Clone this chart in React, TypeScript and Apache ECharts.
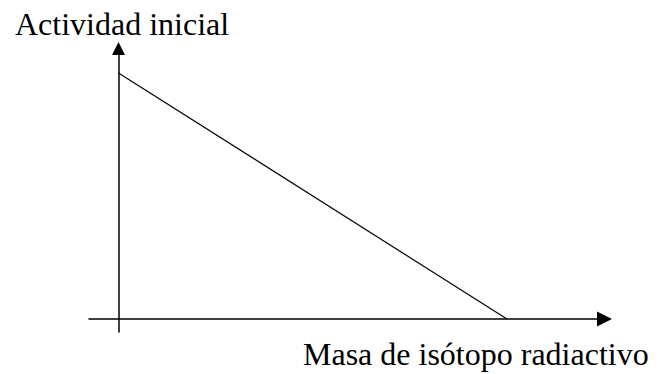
import React, { useEffect, useRef } from "react";
import * as echarts from "echarts";

// Conceptual relation: initial activity falls linearly with the mass of radioactive isotope
const masa: number[] = [0, 1];
const actividad: number[] = [1, 0];
const yLabel = "Actividad inicial";
const xLabel = "Masa de isótopo radiactivo";

export default function App() {
  const ref = useRef<HTMLDivElement>(null);
  useEffect(() => {
    if (!ref.current) return;
    const chart = echarts.init(ref.current, undefined, { renderer: "svg" });
    const family = "Liberation Serif";
    chart.setOption({
      animation: false,
      backgroundColor: "#ffffff",
      grid: { left: 89, right: 60.5, top: 48.5, bottom: 42, containLabel: false },
      xAxis: {
        type: "value",
        min: -0.0759,
        max: 1.251,
        axisLine: {
          onZero: true,
          lineStyle: { color: "#000", width: 1.5 },
          symbol: ["none", "triangle"],
          symbolSize: [15, 15],
        },
        axisTick: { show: false },
        axisLabel: { show: false },
        splitLine: { show: false },
      },
      yAxis: {
        type: "value",
        min: -0.0528,
        max: 1.0996,
        axisLine: {
          onZero: true,
          lineStyle: { color: "#000", width: 1.5 },
          symbol: ["none", "triangle"],
          symbolSize: [13, 13],
        },
        axisTick: { show: false },
        axisLabel: { show: false },
        splitLine: { show: false },
      },
      series: [
        {
          type: "line",
          data: masa.map((m, i) => [m, actividad[i]]),
          symbol: "none",
          lineStyle: { color: "#000", width: 1.2 },
        },
      ],
      graphic: [
        {
          type: "text",
          left: 15,
          top: 7.5,
          style: { text: yLabel, fontFamily: family, fontSize: 32, fill: "#000" },
        },
        {
          type: "text",
          left: 303,
          top: 337.5,
          style: { text: xLabel, fontFamily: family, fontSize: 32, fill: "#000" },
        },
      ],
    });
    return () => chart.dispose();
  }, []);
  return <div ref={ref} style={{ width: 665, height: 374, position: "absolute", left: 0, top: 0 }} />;
}
